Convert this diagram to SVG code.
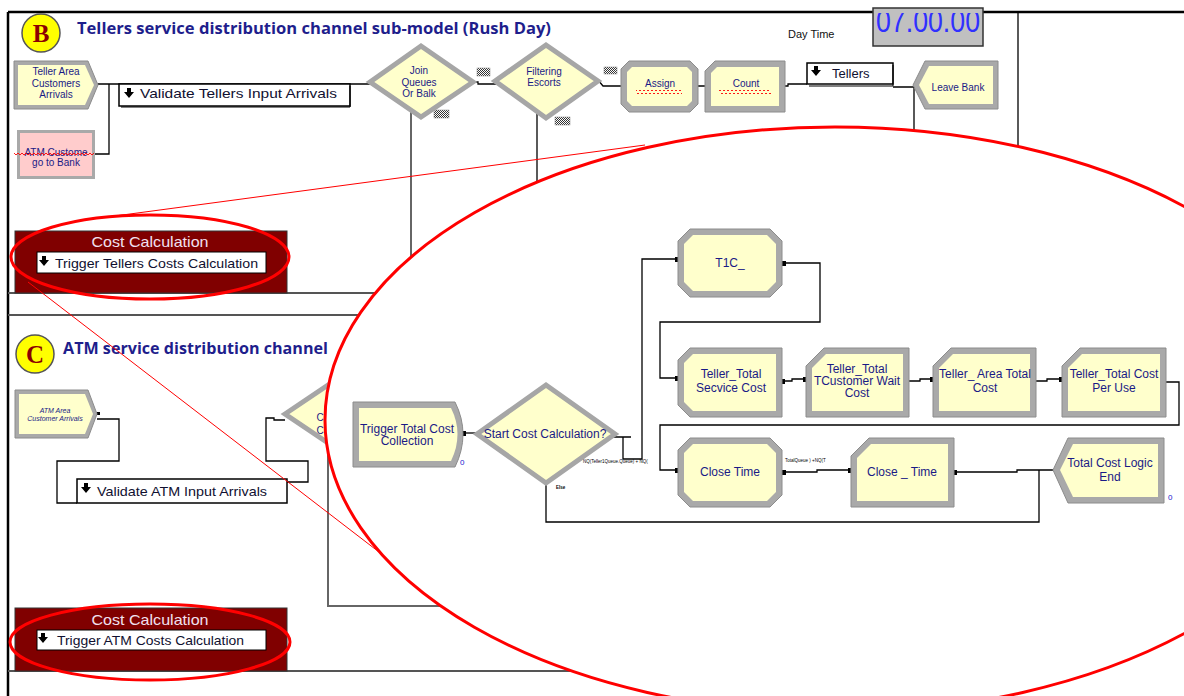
<svg xmlns="http://www.w3.org/2000/svg" width="1184" height="696" viewBox="0 0 1184 696">
<defs>
<style>
.t{font-family:"Liberation Sans",Arial,sans-serif;fill:#1a1a86;text-anchor:middle}
.m{font-size:10px}
.s{font-size:7px;font-style:italic}
.z{font-size:12px}
.ttl{font-family:"Open Sans","DejaVu Sans",sans-serif;font-weight:bold;font-size:15.5px;fill:#1e1e8c}
.ln{fill:none;stroke:#000;stroke-width:1.3}
.gl{fill:none;stroke:#555;stroke-width:2}
.gv{fill:none;stroke:#666;stroke-width:2}
.fr{fill:none;stroke:#000;stroke-width:2.5}
.bd{fill:#a9a9a9;stroke:#8c8c8c;stroke-width:1}
.in{fill:#ffffcc}
.dm{fill:#ffffcc;stroke:#a6a6a6;stroke-width:5}
.lb{fill:#fff;stroke:#000;stroke-width:1.5}
.lbt{font-family:"Liberation Sans",Arial,sans-serif;font-size:13px;fill:#101030}
.ck{fill:url(#chk);stroke:#888;stroke-width:.5}
.wv{fill:url(#wav)}
.rd{fill:none;stroke:#f00;stroke-width:3}
.rt{fill:none;stroke:#f00;stroke-width:1}
.pt{fill:#000}
.tiny{font-family:"Liberation Sans",Arial,sans-serif;font-size:4.5px;fill:#000}
.cc{fill:#800000;stroke:#333;stroke-width:1}
.cct{font-family:"Liberation Sans",Arial,sans-serif;font-size:15px;fill:#f0e0f0;text-anchor:middle}
.bad{fill:#ffff00;stroke:#555;stroke-width:1.5}
.bl{font-family:"Liberation Serif","Times New Roman",serif;font-weight:bold;font-size:25px;fill:#8b0000;text-anchor:middle}
.zero{font-family:"Liberation Sans",Arial,sans-serif;font-size:8px;fill:#2020d0}
</style>
<pattern id="chk" width="2" height="2" patternUnits="userSpaceOnUse">
<rect width="2" height="2" fill="#fff"/><rect width="1" height="1" fill="#333"/><rect x="1" y="1" width="1" height="1" fill="#333"/>
</pattern>
<pattern id="wav" width="4" height="4" patternUnits="userSpaceOnUse">
<path d="M0,3 L2,1 L4,3" fill="none" stroke="#f00" stroke-width="0.9"/>
</pattern>
<path id="dn" d="M-2,0 h4 v4 h3 l-5,6 l-5,-6 h3 z" fill="#000"/>
<clipPath id="clk"><rect x="873" y="13" width="111" height="34"/></clipPath>
</defs>

<rect width="1184" height="696" fill="#fff"/>

<!-- frame and section borders -->
<g id="frame">
<path class="fr" d="M8,12 H1184 M8,12 V696"/>
<path class="ln" d="M1018,12 V200" stroke-width="1.5"/>
<path class="gl" d="M8,293 H500 M8,315 H500 M8,671 H700"/>
</g>

<!-- section B header -->
<g id="headerB">
<circle class="bad" cx="41" cy="33" r="19"/>
<text class="bl" x="41" y="42">B</text>
<text class="ttl" x="77" y="34" textLength="474" lengthAdjust="spacingAndGlyphs">Tellers service distribution channel sub-model (Rush Day)</text>
</g>
<g id="clock">
<text x="788" y="38" font-family="Liberation Sans, Arial, sans-serif" font-size="11" fill="#111">Day Time</text>
<rect x="873" y="8" width="110" height="38" fill="#c0c0c0" stroke="#333" stroke-width="1.5"/>
<text x="876" y="32" font-family="Liberation Sans, Arial, sans-serif" font-size="32" fill="#3030ff" textLength="104" lengthAdjust="spacingAndGlyphs" clip-path="url(#clk)">07.00.00</text>
</g>

<!-- section B connectors -->
<g id="connectorsB">
<path class="ln" d="M98,84 H370 M109,84 V154 H95"/>
<path class="ln" d="M473,82 H478 V84 H496"/>
<path class="ln" d="M598,80 L603,86 H621 M698,86 H705 M785,86 H788 V84 H807 M893,87 H915 M914,87 V150"/>
<path class="gv" d="M411,112 V300"/>
<path class="ln" d="M537,112 V220"/>
<rect class="ck" x="477" y="68" width="13" height="8"/>
<rect class="ck" x="434" y="110" width="15" height="8"/>
<rect class="ck" x="604" y="67" width="13" height="7"/>
<rect class="ck" x="555" y="117" width="15" height="8"/>
</g>

<!-- section B modules -->
<g id="tellerArrivals">
<polygon class="bd" points="14,61 88,61 98,85 88,109 14,109"/>
<polygon class="in" points="18,65 85,65 94,85 85,105 18,105"/>
<text class="t m" x="56" y="75">Teller Area</text>
<text class="t m" x="56" y="87">Customers</text>
<text class="t m" x="56" y="98">Arrivals</text>
</g>
<g id="atmToBank">
<rect x="17" y="130" width="78" height="49" fill="#a9a9a9"/>
<rect x="20" y="133" width="72" height="43" fill="#ffcccc"/>
<text class="t m" x="56" y="156">ATM Custome</text>
<rect class="wv" x="14" y="153" width="80" height="4"/>
<text class="t m" x="56" y="166">go to Bank</text>
</g>
<g id="validateTellers">
<rect class="lb" x="119" y="84" width="231" height="22"/>
<path d="M350,86 V107 H121" fill="none" stroke="#000" stroke-width="1"/>
<use href="#dn" x="129" y="88"/>
<text class="lbt" x="140" y="98" textLength="197" lengthAdjust="spacingAndGlyphs">Validate Tellers Input Arrivals</text>
</g>
<g id="joinQueues">
<polygon class="dm" points="370,82 421,46 473,82 421,117"/>
<text class="t m" x="419" y="74">Join</text>
<text class="t m" x="419" y="86">Queues</text>
<text class="t m" x="419" y="97">Or Balk</text>
</g>
<g id="filteringEscorts">
<polygon class="dm" points="495,81 546,45 598,81 546,118"/>
<text class="t m" x="544" y="75">Filtering</text>
<text class="t m" x="544" y="86">Escorts</text>
</g>
<g id="assign">
<polygon class="bd" points="629,61 690,61 698,69 698,104 690,112 629,112 621,104 621,69"/>
<polygon class="in" points="632,67 687,67 692,72 692,101 687,106 632,106 627,101 627,72"/>
<text class="t m" x="660" y="87">Assign</text>
<rect class="wv" x="636" y="90" width="46" height="4"/>
</g>
<g id="count">
<polygon class="bd" points="715,61 785,61 785,112 705,112 705,71"/>
<polygon class="in" points="717,67 779,67 779,106 711,106 711,73"/>
<text class="t m" x="746" y="87">Count</text>
<rect class="wv" x="719" y="90" width="52" height="4"/>
</g>
<g id="tellersQueue">
<rect class="lb" x="807" y="63" width="86" height="21"/>
<path d="M893,65 V86 H809" fill="none" stroke="#000" stroke-width="1"/>
<use href="#dn" x="816" y="66"/>
<text class="lbt" x="832" y="78">Tellers</text>
</g>
<g id="leaveBank">
<polygon class="bd" points="925,61 998,61 998,109 925,109 913,85"/>
<polygon class="in" points="929,66 993,66 993,104 929,104 919,85"/>
<text class="t m" x="958" y="91">Leave Bank</text>
</g>
<g id="costCalcB">
<rect class="cc" x="15" y="231" width="272" height="62"/>
<text class="cct" x="150" y="247" textLength="117" lengthAdjust="spacingAndGlyphs">Cost Calculation</text>
<rect x="37" y="252" width="229" height="21" fill="#fff" stroke="#000" stroke-width="1"/>
<use href="#dn" x="44" y="256"/>
<text class="lbt" x="55" y="268" textLength="203" lengthAdjust="spacingAndGlyphs">Trigger Tellers Costs Calculation</text>
</g>

<!-- section C header -->
<g id="headerC">
<circle class="bad" cx="35" cy="354" r="19"/>
<text class="bl" x="35" y="363">C</text>
<text class="ttl" x="63" y="354" textLength="265" lengthAdjust="spacingAndGlyphs">ATM service distribution channel</text>
</g>

<!-- section C connectors -->
<g id="connectorsC">
<path class="ln" d="M97,419 H119 V461 H57 V503 H77"/>
<path class="ln" d="M287,482 H308 V461 H266 V418 H274 V420 H285"/>
<path class="gv" d="M328,452 V606 H470"/>
<rect class="pt" x="97" y="412" width="3" height="3"/>
</g>

<!-- section C modules -->
<g id="atmArrivals">
<polygon class="bd" points="15,390 88,390 97,414 88,438 15,438"/>
<polygon class="in" points="19,394 85,394 93,414 85,434 19,434"/>
<text class="t s" x="55" y="413">ATM Area</text>
<text class="t s" x="55" y="421">Customer Arrivals</text>
</g>
<g id="validateATM">
<rect class="lb" x="77" y="479" width="210" height="24"/>
<use href="#dn" x="86" y="483"/>
<text class="lbt" x="97" y="496" textLength="170" lengthAdjust="spacingAndGlyphs">Validate ATM Input Arrivals</text>
</g>
<g id="atmDecide">
<polygon class="dm" points="285,414 337,379 389,414 337,449"/>
<text class="t m" x="320" y="421">C</text>
<text class="t m" x="320" y="434">C</text>
</g>
<g id="costCalcC">
<rect class="cc" x="15" y="608" width="272" height="63"/>
<text class="cct" x="150" y="625" textLength="117" lengthAdjust="spacingAndGlyphs">Cost Calculation</text>
<rect x="37" y="630" width="229" height="20" fill="#fff" stroke="#000" stroke-width="1"/>
<use href="#dn" x="43" y="633"/>
<text class="lbt" x="57" y="645" textLength="187" lengthAdjust="spacingAndGlyphs">Trigger ATM Costs Calculation</text>
</g>

<!-- callout lines and highlight rings -->
<g id="callout">
<path class="rt" d="M100,218 L645,145 M28,282 L392,562"/>
<ellipse class="rd" cx="150" cy="257" rx="139" ry="42"/>
<ellipse class="rd" cx="150" cy="642" rx="140" ry="38"/>
<ellipse cx="835" cy="420" rx="510" ry="293" fill="#fff" stroke="#f00" stroke-width="3"/>
</g>

<!-- magnified cost sub-model: connectors -->
<g id="connectorsZoom">
<path class="ln" d="M460,433 H478"/>
<path class="ln" d="M613,437 H631 M623,437 V459 H642 V259 H678"/>
<path class="ln" d="M782,263 H820 V322 H660 V378 H678"/>
<path class="ln" d="M1166,382 H1179 V425 H660 V470 H678"/>
<path class="ln" d="M546,483 V522 H1039 V470"/>
<path class="ln" d="M782,472 H817 V470 H851"/>
<path class="ln" d="M954,472 H1017 V470 H1053"/>
<path class="ln" d="M782,381 H792 V379 H806 M909,381 H920 V379 H933 M1036,381 H1047 V379 H1062"/>
<rect class="pt" x="462" y="431" width="4" height="5"/>
<rect class="pt" x="675" y="257" width="4" height="5"/>
<rect class="pt" x="782" y="261" width="4" height="5"/>
<rect class="pt" x="675" y="376" width="4" height="5"/>
<rect class="pt" x="675" y="468" width="4" height="5"/>
<rect class="pt" x="782" y="470" width="4" height="5"/>
<rect class="pt" x="848" y="468" width="4" height="5"/>
<rect class="pt" x="954" y="470" width="3" height="5"/>
<rect class="pt" x="782" y="379" width="3" height="5"/>
<rect class="pt" x="803" y="377" width="4" height="5"/>
<rect class="pt" x="930" y="377" width="4" height="5"/>
<rect class="pt" x="1059" y="377" width="4" height="5"/>
<text class="tiny" x="583" y="463">NQ(Teller1Queue.Queue) + NQ(</text>
<text class="tiny" x="785" y="462">TotalQueue ) +NQ(T</text>
<text class="tiny" x="556" y="489" font-weight="bold">Else</text>
</g>

<!-- magnified cost sub-model: modules -->
<g id="triggerCollection">
<path class="bd" d="M353,402 H455 Q471,434 455,467 H353 Z"/>
<path class="in" d="M359,408 H451 Q464,434 451,461 H359 Z"/>
<text class="t z" x="407" y="433">Trigger Total Cost</text>
<text class="t z" x="407" y="445">Collection</text>
<text class="zero" x="460" y="465">0</text>
</g>
<g id="startCost">
<polygon class="dm" points="477,434 546,385 615,434 546,483" stroke-width="6"/>
<text class="t z" x="545" y="438">Start Cost  Calculation?</text>
</g>
<g id="t1c">
<polygon class="bd" points="690,229 770,229 782,241 782,285 770,297 690,297 678,285 678,241"/>
<polygon class="in" points="693,235 767,235 776,244 776,282 767,291 693,291 684,282 684,244"/>
<text class="t z" x="730" y="267">T1C_</text>
</g>
<g id="serviceCost">
<polygon class="bd" points="690,348 782,348 782,417 690,417 678,405 678,360"/>
<polygon class="in" points="693,354 776,354 776,411 693,411 684,402 684,363"/>
<text class="t z" x="731" y="378">Teller_Total</text>
<text class="t z" x="731" y="392">Secvice Cost</text>
</g>
<g id="waitCost">
<polygon class="bd" points="824,348 909,348 909,417 806,417 806,366"/>
<polygon class="in" points="826,354 903,354 903,411 812,411 812,368"/>
<text class="t z" x="857" y="373">Teller_Total</text>
<text class="t z" x="857" y="385">TCustomer Wait</text>
<text class="t z" x="857" y="397">Cost</text>
</g>
<g id="areaCost">
<polygon class="bd" points="951,348 1036,348 1036,417 933,417 933,366"/>
<polygon class="in" points="953,354 1030,354 1030,411 939,411 939,368"/>
<text class="t z" x="985" y="378">Teller_ Area Total</text>
<text class="t z" x="985" y="392">Cost</text>
</g>
<g id="costPerUse">
<polygon class="bd" points="1080,348 1166,348 1166,417 1062,417 1062,366"/>
<polygon class="in" points="1082,354 1160,354 1160,411 1068,411 1068,368"/>
<text class="t z" x="1114" y="378">Teller_Total  Cost</text>
<text class="t z" x="1114" y="392">Per Use</text>
</g>
<g id="closeTime1">
<polygon class="bd" points="690,438 770,438 782,450 782,495 770,507 690,507 678,495 678,450"/>
<polygon class="in" points="693,444 767,444 776,453 776,492 767,501 693,501 684,492 684,453"/>
<text class="t z" x="730" y="476">Close  Time</text>
</g>
<g id="closeTime2">
<polygon class="bd" points="869,438 954,438 954,507 851,507 851,456"/>
<polygon class="in" points="871,444 948,444 948,501 857,501 857,458"/>
<text class="t z" x="902" y="476">Close _ Time</text>
</g>
<g id="logicEnd">
<polygon class="bd" points="1068,438 1164,438 1164,503 1068,503 1053,470"/>
<polygon class="in" points="1073,444 1158,444 1158,497 1073,497 1060,470"/>
<text class="t z" x="1110" y="467">Total Cost Logic</text>
<text class="t z" x="1110" y="481">End</text>
<text class="zero" x="1168" y="500">0</text>
</g>
</svg>
